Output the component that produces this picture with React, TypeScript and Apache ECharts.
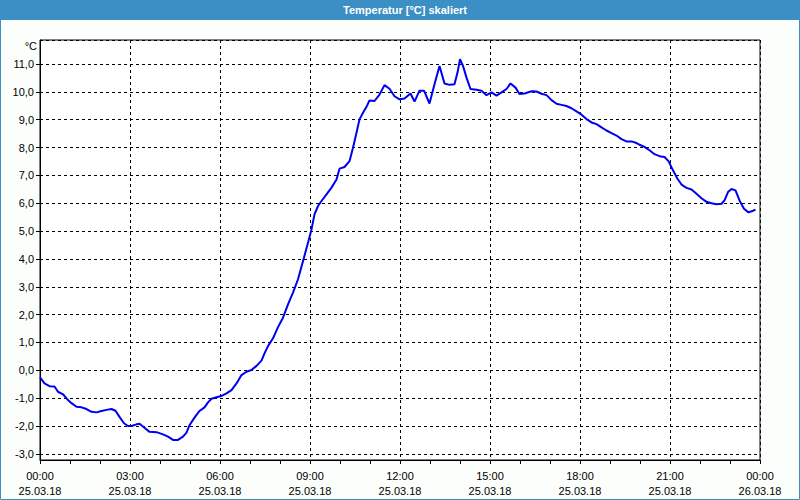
import React, { useEffect, useRef } from "react";
import * as echarts from "echarts";

const chartTitle = "Temperatur [°C] skaliert";
const unitLabel = "°C";

// minutes since 25.03.18 00:00
const times = [
  0, 9, 19, 29, 36, 46, 56, 63, 73, 83, 93, 103, 113, 123, 133, 143, 151, 159, 168, 176, 183, 193, 199, 209, 219, 233,
  246, 256, 266, 276, 286, 293, 299, 306, 313, 319, 329, 336, 343, 353, 363, 373, 383, 393, 403, 413, 423, 433, 443, 449, 456, 466, 476,
  486, 496, 506, 516, 526, 536, 543, 549, 556, 563, 573, 583, 593, 599, 609, 619, 626, 633, 639, 646, 653, 659, 669, 679, 689, 699, 709, 719,
  729, 741, 749, 759, 768, 779, 789, 799, 809, 819, 829, 835, 840, 846, 853, 861, 873, 883, 893, 903, 913, 923, 933, 941, 951, 959,
  969, 983, 993, 1003, 1013, 1023, 1033, 1043, 1053, 1063, 1073, 1083, 1093, 1103, 1113, 1123, 1133, 1143, 1153, 1163, 1173, 1183, 1193, 1199,
  1209, 1219, 1229, 1239, 1249, 1257, 1266, 1275, 1283, 1293, 1303, 1313, 1323, 1333, 1343, 1353, 1363, 1369, 1376, 1383, 1391, 1399, 1408, 1417, 1426, 1431,
];

const temps = [
  -0.25, -0.47, -0.57, -0.58, -0.77, -0.86, -1.07, -1.18, -1.31, -1.33, -1.39, -1.49, -1.51, -1.46, -1.42, -1.39, -1.45, -1.67, -1.9, -2.0, -2.0, -1.94, -1.92, -2.06, -2.21, -2.22,
  -2.3, -2.38, -2.5, -2.5, -2.38, -2.24, -1.97, -1.78, -1.6, -1.46, -1.33, -1.15, -1.02, -0.97, -0.92, -0.83, -0.71, -0.47, -0.17, -0.05, 0.01, 0.16, 0.35, 0.61, 0.87, 1.15, 1.55,
  1.89, 2.37, 2.79, 3.27, 3.92, 4.58, 5.06, 5.6, 5.9, 6.08, 6.32, 6.56, 6.85, 7.24, 7.3, 7.51, 7.99, 8.53, 9.01, 9.25, 9.46, 9.69, 9.67, 9.9, 10.24, 10.11, 9.84, 9.73,
  9.76, 9.94, 9.65, 10.04, 10.04, 9.58, 10.27, 10.93, 10.3, 10.25, 10.27, 10.69, 11.17, 10.93, 10.51, 10.1, 10.07, 10.04, 9.88, 9.98, 9.86, 9.98, 10.1, 10.3, 10.15, 9.92,
  9.94, 10.02, 10.01, 9.93, 9.88, 9.7, 9.57, 9.53, 9.49, 9.41, 9.3, 9.18, 9.02, 8.9, 8.84, 8.72, 8.61, 8.52, 8.43, 8.3, 8.22, 8.22, 8.16, 8.1,
  8.02, 7.9, 7.76, 7.69, 7.66, 7.51, 7.18, 6.88, 6.67, 6.55, 6.49, 6.34, 6.18, 6.05, 6.0, 5.96, 5.98, 6.1, 6.4, 6.51, 6.46, 6.1, 5.8, 5.67, 5.73, 5.77,
];

const xTickLabels = [
  "00:00\n25.03.18",
  "03:00\n25.03.18",
  "06:00\n25.03.18",
  "09:00\n25.03.18",
  "12:00\n25.03.18",
  "15:00\n25.03.18",
  "18:00\n25.03.18",
  "21:00\n25.03.18",
  "00:00\n26.03.18",
];

export default function App() {
  const ref = useRef<HTMLDivElement>(null);

  useEffect(() => {
    if (!ref.current) return;
    const chart = echarts.init(ref.current, null, { renderer: "svg" });
    const blue = "#3c8fc5";
    const font = "Liberation Sans";
    chart.setOption({
      animation: false,
      backgroundColor: "#fbfefb",
      textStyle: { fontFamily: font },
      grid: {
        left: 40,
        right: 40,
        top: 40,
        bottom: 40,
        show: true,
        borderColor: "#000",
        borderWidth: 1,
        backgroundColor: "#ffffff",
      },
      xAxis: {
        type: "value",
        min: 0,
        max: 1440,
        interval: 180,
        axisLine: { show: true, onZero: false, lineStyle: { color: "#000", width: 1 } },
        axisTick: { show: true, length: 4, lineStyle: { color: "#000" } },
        minorTick: { show: true, splitNumber: 3, length: 4, lineStyle: { color: "#000" } },
        splitLine: { show: true, lineStyle: { color: "#000", type: [3, 3], width: 1 } },
        axisLabel: {
          color: "#000",
          fontFamily: font,
          fontSize: 11,
          lineHeight: 15,
          margin: 8,
          formatter: (v: number) => xTickLabels[Math.round(v / 180)] ?? "",
        },
      },
      yAxis: {
        type: "value",
        min: -3.22,
        max: 11.86,
        splitNumber: 14,
        minInterval: 1,
        maxInterval: 1,
        axisLine: { show: true, onZero: false, lineStyle: { color: "#000", width: 1 } },
        axisTick: { show: true, length: 4, lineStyle: { color: "#000" } },
        splitLine: { show: true, lineStyle: { color: "#000", type: [3, 3], width: 1 } },
        axisLabel: {
          color: "#000",
          fontFamily: font,
          fontSize: 11,
          margin: 6,
          showMinLabel: false,
          showMaxLabel: false,
          formatter: (v: number) => v.toFixed(1).replace(".", ","),
        },
      },
      graphic: [
        {
          type: "rect",
          z: 100,
          shape: { x: 0, y: 0, width: 800, height: 20 },
          style: { fill: blue },
        },
        {
          type: "rect",
          z: 100,
          shape: { x: 0.5, y: 0.5, width: 799, height: 499 },
          style: { fill: "none", stroke: blue, lineWidth: 1 },
        },
        {
          type: "text",
          z: 101,
          x: 405,
          y: 10,
          style: {
            text: chartTitle,
            fill: "#ffffff",
            font: `bold 11px "${font}"`,
            textAlign: "center",
            textVerticalAlign: "middle",
          },
        },
        {
          type: "text",
          z: 101,
          x: 37,
          y: 46,
          style: {
            text: unitLabel,
            fill: "#000",
            font: `11px "${font}"`,
            textAlign: "right",
            textVerticalAlign: "middle",
          },
        },
      ],
      series: [
        {
          type: "line",
          data: times.map((t, i) => [t, temps[i]]),
          showSymbol: false,
          symbol: "none",
          lineStyle: { color: "#0000f0", width: 2 },
        },
      ],
    });
    return () => chart.dispose();
  }, []);

  return (
    <div
      ref={ref}
      style={{ position: "fixed", left: 0, top: 0, width: 800, height: 500 }}
    />
  );
}
